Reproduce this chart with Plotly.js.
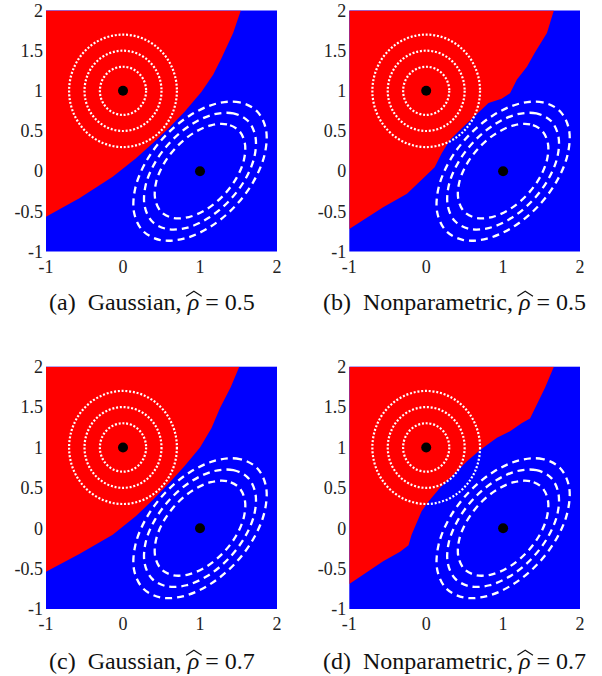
<!DOCTYPE html>
<html><head><meta charset="utf-8">
<script src="https://cdn.plot.ly/plotly-3.0.1.min.js"></script>
<style>html,body{margin:0;padding:0;background:#fff}</style>
</head><body><div id="chart" style="width:602px;height:676px"></div>
<script>
// ---------- data ----------
const axisRange = [-1, 2];
const xTickVals = [-1, 0, 1, 2];
const xTickText = ['-1', '0', '1', '2'];
const yTickVals = [-1, -0.5, 0, 0.5, 1, 1.5, 2];
const yTickText = ['-1', '-0.5', '0', '0.5', '1', '1.5', '2'];

const classMeansX = [0, 1];
const classMeansY = [1, 0];

// dotted contours of class 1 (circles centred on (0,1))
const circleRadii = [0.3, 0.5, 0.7];

// dashed contours of class 2 (ellipses centred on (1,0))
const ellipseOuterX = [1.743, 1.516, 1.210, 0.873, 0.555, 0.304, 0.160, 0.144, 0.258, 0.485, 0.790, 1.127, 1.446, 1.696, 1.840, 1.857, 1.743];
const ellipseOuterY = [0.743, 0.857, 0.840, 0.696, 0.446, 0.127, -0.210, -0.516, -0.743, -0.857, -0.840, -0.696, -0.446, -0.127, 0.210, 0.516, 0.743];
const ellipseMidX = [1.624, 1.433, 1.176, 0.893, 0.626, 0.416, 0.294, 0.281, 0.376, 0.567, 0.824, 1.107, 1.374, 1.584, 1.706, 1.719, 1.624];
const ellipseMidY = [0.624, 0.719, 0.706, 0.584, 0.374, 0.107, -0.176, -0.433, -0.624, -0.719, -0.706, -0.584, -0.374, -0.107, 0.176, 0.433, 0.624];
const ellipseInnerX = [1.505, 1.351, 1.143, 0.913, 0.697, 0.527, 0.429, 0.418, 0.495, 0.650, 0.857, 1.087, 1.303, 1.473, 1.571, 1.582, 1.505];
const ellipseInnerY = [0.505, 0.582, 0.571, 0.473, 0.303, 0.087, -0.143, -0.351, -0.505, -0.582, -0.571, -0.473, -0.303, -0.087, 0.143, 0.351, 0.505];

// decision boundaries (red region lies to the upper-left)
const boundaryA_X = [-1, -0.567, -0.134, 0.169, 0.386, 0.6, 0.8, 1.02, 1.17, 1.28, 1.43, 1.53];
const boundaryA_Y = [-0.567, -0.338, -0.069, 0.16, 0.347, 0.54, 0.74, 0.99, 1.20, 1.41, 1.72, 2.0];
const boundaryB_X = [-1, -0.82, -0.56, -0.25, -0.02, 0.11, 0.20, 0.31, 0.48, 0.66, 0.81, 0.98, 1.09, 1.18, 1.31, 1.41, 1.57, 1.66];
const boundaryB_Y = [-0.72, -0.61, -0.45, -0.28, -0.07, 0.05, 0.22, 0.39, 0.55, 0.72, 0.85, 0.90, 0.97, 1.14, 1.30, 1.47, 1.72, 2.0];
const boundaryC_X = [-1, -0.567, -0.134, 0.169, 0.386, 0.6, 0.8, 1.0, 1.15, 1.26, 1.40, 1.51];
const boundaryC_Y = [-0.54, -0.32, -0.08, 0.15, 0.35, 0.56, 0.77, 1.0, 1.24, 1.49, 1.75, 2.0];
const boundaryD_X = [-1, -0.77, -0.56, -0.34, -0.23, -0.19, -0.12, -0.06, 0.03, 0.18, 0.35, 0.53, 0.70, 0.81, 0.92, 1.09, 1.24, 1.35, 1.44, 1.545, 1.66];
const boundaryD_Y = [-0.69, -0.54, -0.41, -0.29, -0.21, -0.08, 0.08, 0.21, 0.33, 0.50, 0.66, 0.83, 0.97, 1.05, 1.12, 1.20, 1.30, 1.36, 1.53, 1.74, 2.0];

const captionLabels = ['(a)', '(b)', '(c)', '(d)'];
const captionMethods = ['Gaussian', 'Nonparametric', 'Gaussian', 'Nonparametric'];
const captionRho = ['0.5', '0.5', '0.7', '0.7'];

// ---------- layout helpers ----------
const W = 602, H = 676;
const SERIF = "'Liberation Serif', 'Times New Roman', Times, serif";
const CAP_SIZE = 24;
const panels = [
  {bx: boundaryA_X, by: boundaryA_Y, xs: [46, 277], ys: [10.5, 251.5], cap: [151.7, 302]},
  {bx: boundaryB_X, by: boundaryB_Y, xs: [349.3, 580], ys: [10.5, 251.5], cap: [454.5, 302]},
  {bx: boundaryC_X, by: boundaryC_Y, xs: [46, 277], ys: [366.7, 609], cap: [151.7, 661]},
  {bx: boundaryD_X, by: boundaryD_Y, xs: [349.3, 580], ys: [366.7, 609], cap: [454.5, 661]}
];

const RED = '#ff0000', BLUE = '#0000ff';
const tickFont = {family: SERIF, size: 18, color: '#222'};
const traces = [];
const shapes = [];
const annotations = [];
const layout = {
  width: W, height: H,
  margin: {l: 0, r: 0, t: 0, b: 0},
  paper_bgcolor: '#ffffff',
  plot_bgcolor: BLUE,
  showlegend: false,
  font: {family: SERIF},
  shapes: shapes,
  annotations: annotations
};

panels.forEach((p, i) => {
  const n = i === 0 ? '' : String(i + 1);
  const xa = 'x' + n, ya = 'y' + n;
  layout['xaxis' + n] = {
    domain: [p.xs[0] / W, p.xs[1] / W],
    range: axisRange.slice(), anchor: ya,
    showgrid: false, zeroline: false, showline: false, ticks: '',
    tickvals: xTickVals, ticktext: xTickText, tickfont: tickFont,
    ticklabelstandoff: 2, fixedrange: true
  };
  layout['yaxis' + n] = {
    domain: [1 - p.ys[1] / H, 1 - p.ys[0] / H],
    range: axisRange.slice(), anchor: xa,
    showgrid: false, zeroline: false, showline: false, ticks: '',
    tickvals: yTickVals, ticktext: yTickText, tickfont: tickFont,
    ticklabelstandoff: 2, fixedrange: true
  };
  // red region
  traces.push({
    type: 'scatter', mode: 'lines', xaxis: xa, yaxis: ya,
    x: p.bx.concat([axisRange[0]]), y: p.by.concat([axisRange[1]]),
    fill: 'toself', fillcolor: RED, line: {width: 0, color: RED},
    hoverinfo: 'skip'
  });
  // dashed ellipses
  [[ellipseOuterX, ellipseOuterY], [ellipseMidX, ellipseMidY], [ellipseInnerX, ellipseInnerY]].forEach(e => {
    traces.push({
      type: 'scatter', mode: 'lines', xaxis: xa, yaxis: ya,
      x: e[0], y: e[1],
      line: {color: '#ffffff', width: 2.3, dash: '7px,5px', shape: 'spline', smoothing: 1},
      hoverinfo: 'skip'
    });
  });
  // class means
  traces.push({
    type: 'scatter', mode: 'markers', xaxis: xa, yaxis: ya,
    x: classMeansX, y: classMeansY,
    marker: {color: '#000000', size: 10, line: {width: 0}},
    hoverinfo: 'skip'
  });
  // dotted circles
  circleRadii.forEach(r => {
    shapes.push({
      type: 'circle', xref: xa, yref: ya,
      x0: classMeansX[0] - r, x1: classMeansX[0] + r,
      y0: classMeansY[0] - r, y1: classMeansY[0] + r,
      line: {color: '#ffffff', width: 2.2, dash: '2px,1.8px'}
    });
  });
  annotations.push({
    xref: 'paper', yref: 'paper',
    x: p.cap[0] / W, y: 1 - p.cap[1] / H,
    xanchor: 'center', yanchor: 'middle', showarrow: false,
    text: captionLabels[i] + '  ' + captionMethods[i] + ', <i>ρ</i> = ' + captionRho[i],
    font: {family: SERIF, size: CAP_SIZE, color: '#111'}
  });
});

Plotly.newPlot('chart', traces, layout, {staticPlot: true, displayModeBar: false}).then(gd => {
  // wide hat over the italic rho of each caption
  const g = gd.getBoundingClientRect();
  const hats = [];
  gd.querySelectorAll('.annotation-text').forEach(t => {
    const it = Array.from(t.querySelectorAll('tspan')).find(s => (s.getAttribute('style') || '').indexOf('italic') >= 0);
    if (!it) return;
    const r = it.getBoundingClientRect();
    const baseline = r.bottom - g.top - 0.216 * CAP_SIZE;
    const xTop = baseline - 0.46 * CAP_SIZE - 2.5;
    const left = r.left - g.left - 0.5, right = r.right - g.left + 2.5;
    const mid = (left + right) / 2;
    const px = v => (v / W).toFixed(5), py = v => (1 - v / H).toFixed(5);
    hats.push({
      type: 'path', xref: 'paper', yref: 'paper',
      path: 'M' + px(left) + ',' + py(xTop) + ' L' + px(mid) + ',' + py(xTop - 5) + ' L' + px(right) + ',' + py(xTop),
      line: {color: '#111', width: 1.2}
    });
  });
  return Plotly.relayout(gd, {shapes: shapes.concat(hats)});
});
</script>
</body></html>
